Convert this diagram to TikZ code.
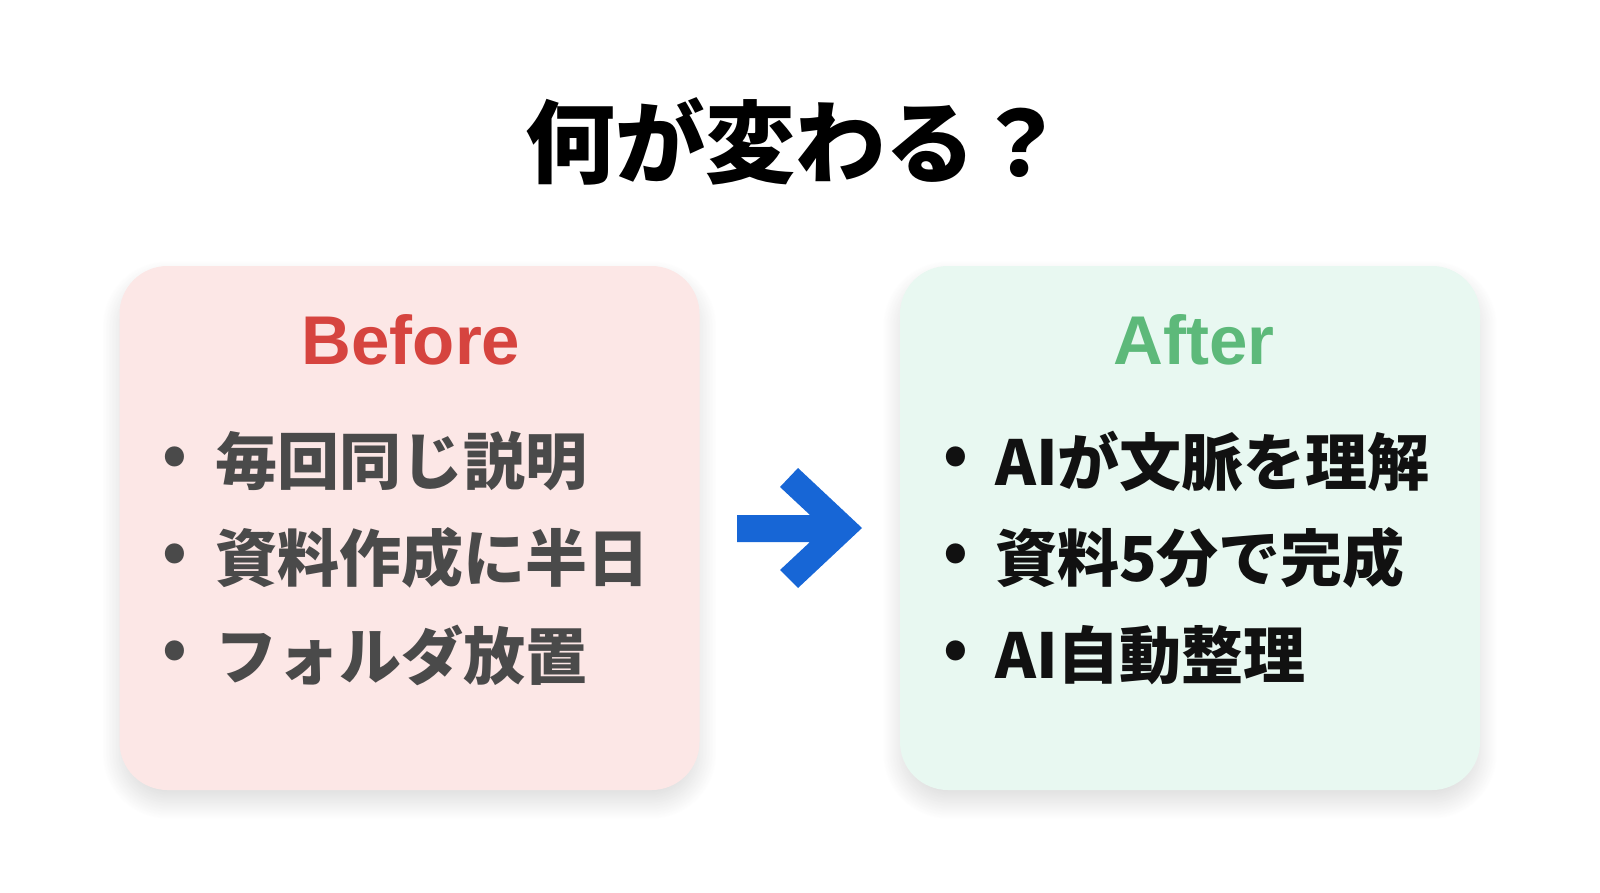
\documentclass[tikz,border=0pt]{standalone}
\usepackage{fontspec}
\setmainfont{Liberation Sans}
\newfontfamily\jp{Noto Sans CJK JP}
\usetikzlibrary{shadows.blur}

\definecolor{beforered}{HTML}{D6443F}
\definecolor{aftergreen}{HTML}{5DB97A}
\definecolor{beforebg}{HTML}{FCE7E6}
\definecolor{afterbg}{HTML}{E8F8F1}
\definecolor{beforetext}{HTML}{4A4A4A}
\definecolor{aftertext}{HTML}{111111}
\definecolor{arrowblue}{HTML}{1766D6}

\begin{document}
\begin{tikzpicture}[x=1pt, y=-1pt,
    box/.style={rounded corners=48pt, minimum width=580pt, minimum height=524pt, inner sep=0pt,
        blur shadow={shadow xshift=0pt, shadow yshift=-12pt, shadow blur radius=18pt,
            shadow blur steps=24, shadow opacity=14}},
    head/.style={font=\fontsize{69}{69}\selectfont\bfseries},
    item/.style={anchor=west, inner sep=0pt, font=\jp\bfseries\fontsize{62}{62}\selectfont},
    dot/.style={inner sep=0pt, font=\jp\bfseries\fontsize{62}{62}\selectfont}]
    \useasboundingbox (0,0) rectangle (1600,892);

    \node (title) [inner sep=0pt, font=\jp\bfseries\fontsize{90}{90}\selectfont] at (795,141) {何が変わる？};

    % Boxes
    \node (before) [box, fill=beforebg] at (409.5,528) {};
    \node (after) [box, fill=afterbg] at (1190,528) {};

    \node (beforehead) [head, text=beforered, inner sep=0pt] at (411,340) {Before};
    \node (afterhead) [head, text=aftergreen, inner sep=0pt] at (1194,340) {After};

    % Before items
    \node (bd1) [dot, text=beforetext] at (175,461) {•};
    \node (bd2) [dot, text=beforetext] at (175,558) {•};
    \node (bd3) [dot, text=beforetext] at (175,655) {•};
    \node (b1) [item, text=beforetext] at (215,461) {毎回同じ説明};
    \node (b2) [item, text=beforetext] at (215,558) {資料作成に半日};
    \node (b3) [item, text=beforetext] at (215,655) {フォルダ放置};

    % After items
    \node (ad1) [dot, text=aftertext] at (956,461) {•};
    \node (ad2) [dot, text=aftertext] at (956,558) {•};
    \node (ad3) [dot, text=aftertext] at (956,655) {•};
    \node (a1) [item, text=aftertext] at (995,461) {AIが文脈を理解};
    \node (a2) [item, text=aftertext] at (995,558) {資料5分で完成};
    \node (a3) [item, text=aftertext] at (995,655) {AI自動整理};

    % Arrow
    \fill [arrowblue] (737,515) -- (810,515) -- (780,487) -- (798,468) -- (862,528)
        -- (798,588) -- (780,570) -- (810,542) -- (737,542) -- cycle;
\end{tikzpicture}
\end{document}
